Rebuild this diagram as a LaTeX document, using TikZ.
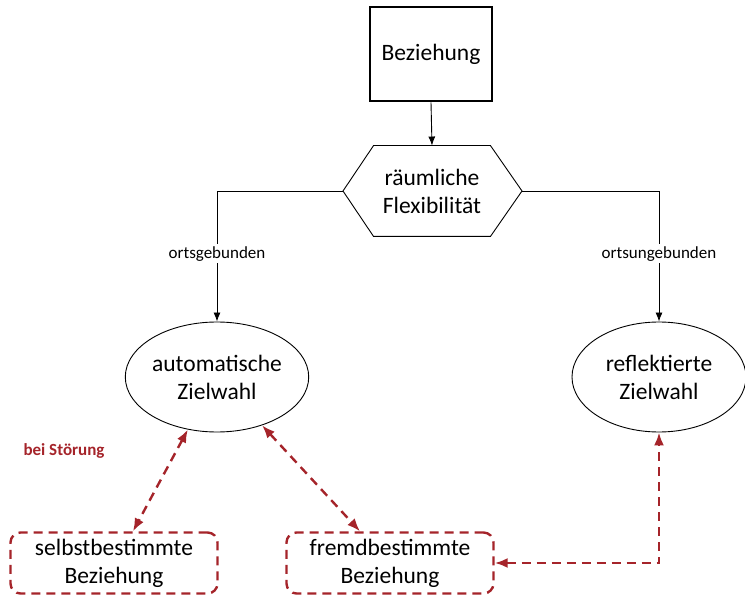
\documentclass[tikz,border=0pt]{standalone}
\usepackage{fontspec}
\setmainfont{Carlito}
\usetikzlibrary{arrows.meta,shapes.geometric}

\definecolor{stoerrot}{RGB}{165,36,42}

\begin{document}
\begin{tikzpicture}[x=1pt,y=1pt,>=Latex,line width=0.9pt,
  gross/.style={font=\fontsize{23.5}{28}\selectfont, align=center},
  klein/.style={font=\fontsize{17}{20}\selectfont, fill=white, inner sep=2pt},
  ziel/.style={gross, draw, ellipse, minimum width=180, minimum height=110, inner sep=0pt},
  folge/.style={gross, draw=stoerrot, line width=2.4pt, dash pattern=on 9pt off 6pt,
    rounded corners=10pt, minimum width=207, minimum height=61, inner sep=0pt},
  pfeil/.style={->, >={Latex[length=9pt,width=7pt]}},
  stoer/.style={<->, >={Latex[length=13pt,width=10pt]}, stoerrot, line width=2.4pt,
    dash pattern=on 9pt off 6pt}]
\useasboundingbox (0,0) rectangle (745,-596);

% Beziehung und Verzweigung
\node[gross, draw, line width=2.6pt, minimum width=122, minimum height=94] (bez) at (431,-54) {Beziehung};
\node[gross, minimum width=116, minimum height=90, inner sep=0pt] (flex) at (432,-191) {räumliche\\Flexibilität};
\coordinate (flexL) at (343,-191);
\coordinate (flexR) at (522,-191);
\draw (flex.north west) -- (flex.north east) -- (flexR) -- (flex.south east)
  -- (flex.south west) -- (flexL) -- cycle;

% Zielwahl
\node[ziel] (auto) at (217,-377) {automatische\\Zielwahl};
\node[ziel, minimum width=174] (refl) at (659,-377) {reflektierte\\Zielwahl};

\draw[pfeil] (bez.south) -- (flex.north);
\draw[pfeil] (flexL) -| node[klein, pos=0.74] {ortsgebunden} (auto.north);
\draw[pfeil] (flexR) -| node[klein, pos=0.74] {ortsungebunden} (refl.north);

% Beziehung nach Stoerung
\node[font=\fontsize{17}{20}\selectfont\bfseries, text=stoerrot] (stoerung) at (64,-451) {bei Störung};
\node[folge] (selbst) at (114,-563) {selbstbestimmte\\Beziehung};
\node[folge] (fremd) at (390,-563) {fremdbestimmte\\Beziehung};

\draw[stoer] (auto.-119) -- ([xshift=19pt]selbst.north);
\draw[stoer] (auto.-47) -- ([xshift=-30pt]fremd.north);
\draw[stoer] (fremd.east) -| (refl.south);
\end{tikzpicture}
\end{document}
